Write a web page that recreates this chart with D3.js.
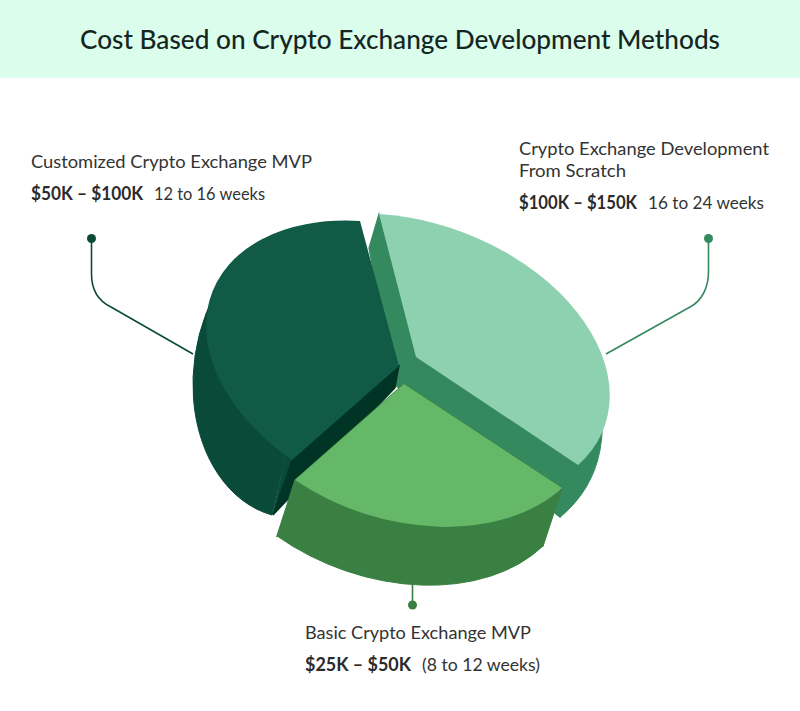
<!DOCTYPE html>
<html lang="en">
<head>
<meta charset="utf-8">
<title>Cost Based on Crypto Exchange Development Methods</title>
<script src="https://cdnjs.cloudflare.com/ajax/libs/d3/7.8.5/d3.min.js"></script>
<style>
  html, body { margin: 0; padding: 0; background: #fff; }
  svg { display: block; }
  text { font-family: Lato, sans-serif; }
</style>
</head>
<body>
<script>
var title = "Cost Based on Crypto Exchange Development Methods";

// data, clockwise from the top of the pie
var categories = [["Crypto Exchange Development", "From Scratch"], ["Basic Crypto Exchange MVP"], ["Customized Crypto Exchange MVP"]];
var shares = [37.3, 25.3, 37.4];
var costs = ["$100K – $150K", "$25K – $50K", "$50K – $100K"];
var durations = ["16 to 24 weeks", "(8 to 12 weeks)", "12 to 16 weeks"];

var topColors = ["#8dd1b0", "#66b869", "#105a46"];
var wallColors = ["#35895f", "#3b8043", "#0a4a38"];
var innerColors = ["#35895f", "#3b8043", "#003425"];

// the drawing is a faked 3D pie: every slice has its own frame on screen
// (tip, arc start, arc end) for the top face and the bottom face, and
// "low" holds the lower corners of the cut sides
var frames = [
  { top: [[416, 357], [379, 214], [578, 465]], bottom: [[405, 385], [384, 221], [560, 517]], low: [[395, 385], [369, 248], [560, 517]] },
  { top: [[404, 384], [562, 488], [295, 480]], bottom: [[385, 438], [543, 546], [277, 536]], low: [[385, 445], [543, 546], [277, 536]] },
  { top: [[399, 366], [292, 460], [360, 221]], bottom: [[305, 370], [272, 515], [252, 247]], low: [[395, 388], [273, 515], [360, 262]] }
];

var width = 800, height = 711, R = 100;

var svg = d3.select("body").append("svg")
  .attr("width", width)
  .attr("height", height);

// header
svg.append("rect").attr("width", width).attr("height", 78).attr("fill", "#dafdec");
svg.append("text")
  .attr("x", 80).attr("y", 49)
  .attr("textLength", 640).attr("lengthAdjust", "spacingAndGlyphs")
  .attr("font-size", 26).attr("font-weight", 500)
  .attr("fill", "#14261f")
  .text(title);

var pie = d3.pie().sort(null).value(function(d) { return d; });
var arcs = pie(shares);
var arc = d3.arc().innerRadius(0).outerRadius(R);
var line = d3.line();

// affine matrix taking the d3.arc sector onto the on-screen frame
function matrix(frame, a) {
  var t = frame[0], s = frame[1], e = frame[2];
  var p0 = [R * Math.sin(a.startAngle), -R * Math.cos(a.startAngle)];
  var p1 = [R * Math.sin(a.endAngle), -R * Math.cos(a.endAngle)];
  var det = p0[0] * p1[1] - p1[0] * p0[1];
  var sx = s[0] - t[0], sy = s[1] - t[1], ex = e[0] - t[0], ey = e[1] - t[1];
  var m11 = (sx * p1[1] - ex * p0[1]) / det;
  var m12 = (ex * p0[0] - sx * p1[0]) / det;
  var m21 = (sy * p1[1] - ey * p0[1]) / det;
  var m22 = (ey * p0[0] - sy * p1[0]) / det;
  return "matrix(" + [m11, m21, m12, m22, t[0], t[1]].join(",") + ")";
}

function face(i, which, color, seam) {
  var p = svg.append("path")
    .attr("d", arc(arcs[i]))
    .attr("transform", matrix(frames[i][which], arcs[i]))
    .attr("fill", color);
  if (seam) p.attr("stroke", color).attr("stroke-width", 1).attr("vector-effect", "non-scaling-stroke");
}

// side of the cut between the top face and the lower corners
function cut(i, end, color) {
  var f = frames[i];
  quad([f.top[0], f.top[end], f.low[end], f.low[0]], color);
}

function quad(pts, color) {
  svg.append("path")
    .attr("d", line(pts) + "Z")
    .attr("fill", color)
    .attr("stroke", color).attr("stroke-width", 1.2);
}

// back to front
face(0, "bottom", wallColors[0], true);
cut(0, 1, innerColors[0]);
cut(0, 2, innerColors[0]);
face(2, "bottom", wallColors[2], true);
quad([frames[2].top[1], frames[2].low[1], frames[2].bottom[0], frames[2].top[0]], wallColors[2]);
cut(2, 1, innerColors[2]);
face(2, "top", topColors[2]);
face(0, "top", topColors[0]);
face(1, "bottom", wallColors[1], true);
cut(1, 1, wallColors[1]);
cut(1, 2, wallColors[1]);
face(1, "top", topColors[1]);

// leader lines
function leader(pts, color) {
  var p = d3.path();
  p.moveTo(pts[0][0], pts[0][1]);
  if (pts.length == 4) {
    var dir = pts[2][0] > pts[1][0] ? 1 : -1;
    p.lineTo(pts[1][0], pts[1][1]);
    p.bezierCurveTo(pts[1][0], pts[1][1] + 16, pts[1][0] + dir * 7, pts[2][1] - 6, pts[2][0], pts[2][1]);
    p.lineTo(pts[3][0], pts[3][1]);
  } else {
    p.lineTo(pts[1][0], pts[1][1]);
  }
  svg.append("path").attr("d", p.toString()).attr("fill", "none")
    .attr("stroke", color).attr("stroke-width", 1.6);
  svg.append("circle").attr("cx", pts[0][0]).attr("cy", pts[0][1]).attr("r", 4.5).attr("fill", color);
}
leader([[91.5, 238.5], [91.5, 274], [111, 307], [193, 354]], wallColors[2]);
leader([[708.5, 238.5], [708.5, 272], [690, 307], [606, 354]], wallColors[0]);
leader([[412.5, 605], [412.5, 585]], wallColors[1]);

// labels
var labelPos = [
  { x: 519, y: [155, 177], w: [250, 107], cost: 209, costW: 118, gap: 648, gapW: 116 },
  { x: 305, y: [639], w: [226], cost: 671, costW: 106, gap: 422, gapW: 118 },
  { x: 31, y: [168], w: [281], cost: 200, costW: 112, gap: 154, gapW: 111 }
];
function label(x, y, w, weight, color, t) {
  svg.append("text").attr("x", x).attr("y", y)
    .attr("textLength", w).attr("lengthAdjust", "spacingAndGlyphs")
    .attr("font-size", 18).attr("font-weight", weight).attr("fill", color).text(t);
}
categories.forEach(function(lines, i) {
  var pos = labelPos[i];
  lines.forEach(function(t, j) {
    label(pos.x, pos.y[j], pos.w[j], 400, "#333", t);
  });
  label(pos.x, pos.cost, pos.costW, 700, "#2b2b2b", costs[i]);
  label(pos.gap, pos.cost, pos.gapW, 400, "#333", durations[i]);
});
</script>
</body>
</html>
